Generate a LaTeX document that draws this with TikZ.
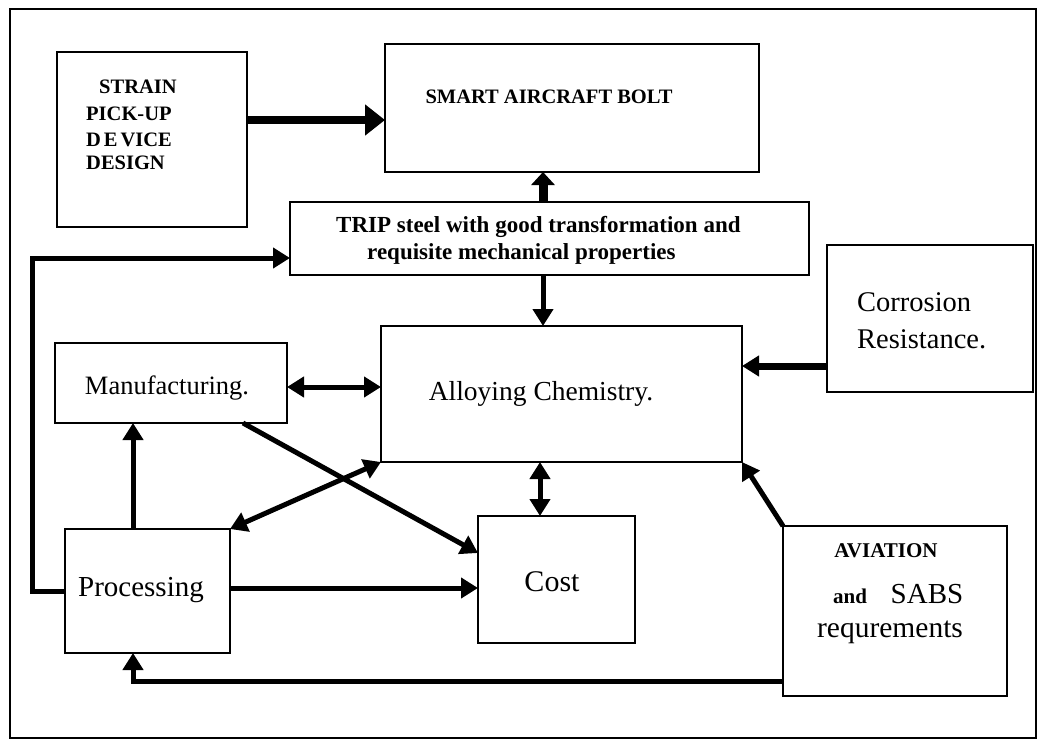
\documentclass[tikz,border=0pt]{standalone}
\usepackage{fontspec}
\setmainfont{Liberation Serif}
\usetikzlibrary{arrows.meta}
\newcommand\boxnode[5]{\node[box, minimum width={(#4-#2)*1pt}, minimum height={(#5-#3)*1pt}] (#1) at ({(#2+#4)/2},{(#3+#5)/2}) {};}
\begin{document}
\begin{tikzpicture}[x=1pt,y=-1pt,
  box/.style={draw, line width=1.6pt, inner sep=0pt, outer sep=0pt},
  arr/.style={line width=5pt, -{Triangle[length=17pt,width=20pt]}},
  darr/.style={line width=5pt, {Triangle[length=17pt,width=20pt]}-{Triangle[length=17pt,width=20pt]}},
  bigarr/.style={line width=8pt, -{Triangle[length=20pt,width=30pt]}},
  lbl/.style={inner sep=0pt, text=black},
  bt/.style={lbl, font=\bfseries\fontsize{20.5}{24}\selectfont}]
\useasboundingbox (0,0) rectangle (1047,741);
\draw[line width=1.5pt] (10,9) rectangle (1036,738);
% boxes
\boxnode{strain}{57}{52}{247}{227}
\boxnode{smart}{385}{44}{759}{172}
\boxnode{trip}{290}{202}{809}{275}
\boxnode{corr}{827}{245}{1033}{392}
\boxnode{avia}{783}{526}{1007}{696}
\boxnode{manu}{55}{343}{287}{423}
\boxnode{proc}{65}{529}{230}{653}
\boxnode{alloy}{381}{326}{742}{462}
\boxnode{cost}{478}{516}{635}{643}
% texts
\node[bt, anchor=base west] (t1) at (99,94) {STRAIN};
\node[bt, anchor=base west] (t2) at (86,121) {PICK-UP};
\node[bt, anchor=base west] (t3) at (86,147) {D\hspace{3pt}E\hspace{3pt}VICE};
\node[bt, anchor=base west] (t4) at (86,170) {DESIGN};
\node[bt, anchor=base] (t5) at (549,104) {SMART AIRCRAFT BOLT};
\node[lbl, font=\bfseries\fontsize{23}{27}\selectfont, anchor=base west] (t6) at (336,232) {TRIP steel with good transformation and};
\node[lbl, font=\bfseries\fontsize{23}{27}\selectfont, anchor=base west] (t7) at (367,259) {requisite mechanical properties};
\node[lbl, font=\fontsize{27.5}{33}\selectfont, anchor=base] (t8) at (541,400) {Alloying Chemistry.};
\node[lbl, font=\fontsize{28.5}{34}\selectfont, anchor=base west] (t9) at (857,311) {Corrosion};
\node[lbl, font=\fontsize{28.5}{34}\selectfont, anchor=base west] (t10) at (857,348) {Resistance.};
\node[lbl, font=\fontsize{26.5}{32}\selectfont, anchor=base] (t11) at (167,394) {Manufacturing.};
\node[lbl, font=\fontsize{29}{34}\selectfont, anchor=base] (t12) at (141,596) {Processing};
\node[lbl, font=\fontsize{30}{36}\selectfont, anchor=base] (t13) at (552,591) {Cost};
\node[lbl, font=\bfseries\fontsize{21}{25}\selectfont, anchor=base] (t14) at (886,557) {AVIATION};
\node[lbl, font=\bfseries\fontsize{21}{25}\selectfont, anchor=base] (t15) at (850,603) {and};
\node[lbl, font=\fontsize{29}{34}\selectfont, anchor=base] (t16) at (927,603) {SABS};
\node[lbl, font=\fontsize{29.5}{35}\selectfont, anchor=base] (t17) at (890,637) {requrements};
% helper coordinates
\coordinate (ya) at (0,120);
\coordinate (xa) at (543,0);
\coordinate (yb) at (0,387);
\coordinate (xc) at (133,0);
\coordinate (xd) at (243,0);
\coordinate (yd) at (0,553);
\coordinate (ye) at (0,588);
\coordinate (xf) at (540,0);
\coordinate (yg) at (0,366);
\coordinate (yh) at (0,681);
\coordinate (xj) at (32,0);
\coordinate (yk) at (0,258);
% connectors
\draw[bigarr] (strain.east |- ya) -- (smart.west |- ya);
\draw[line width=9pt, -{Triangle[length=13pt,width=23pt]}] (trip.north -| xa) -- (smart.south -| xa);
\draw[arr] (trip.south -| xa) -- (alloy.north -| xa);
\draw[darr] (manu.east |- yb) -- (alloy.west |- yb);
\draw[arr] (proc.north -| xc) -- (manu.south -| xc);
\draw[arr] (manu.south -| xd) -- (cost.west |- yd);
\draw[darr] (alloy.south west) -- (proc.north east);
\draw[arr] (proc.east |- ye) -- (cost.west |- ye);
\draw[darr] (alloy.south -| xf) -- (cost.north -| xf);
\draw[arr, line width=7pt] (corr.west |- yg) -- (alloy.east |- yg);
\draw[arr] (avia.north west) -- (alloy.south east);
\draw[arr] (avia.west |- yh) -| (proc.south -| xc);
\draw[arr] (proc.west) -| (xj |- yk) -- (trip.west |- yk);
\end{tikzpicture}
\end{document}
